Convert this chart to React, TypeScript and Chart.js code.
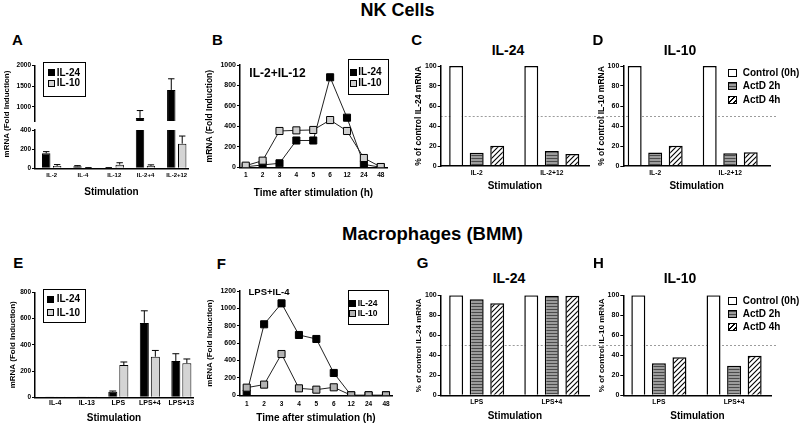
import React, { useEffect, useRef } from "react";
import { Chart, registerables } from "chart.js";

Chart.register(...registerables);

const FONT = "'Liberation Sans', Arial, Helvetica, sans-serif";
Chart.defaults.font.family = FONT;
Chart.defaults.color = "#000";

// ---------------- data ----------------
const SERIES = ["IL-24", "IL-10"];
const TREATMENTS = ["Control (0h)", "ActD 2h", "ActD 4h"];

// A — NK cells, fold induction (broken axis)
const A_CATEGORIES = ["IL-2", "IL-4", "IL-12", "IL-2+4", "IL-2+12"];
const A_IL24 = [157, 22, 5, 728, 1409];
const A_IL24_ERR = [17, 6, 2, 179, 272];
const A_IL10 = [25, 5, 38, 25, 257];
const A_IL10_ERR = [14, 2, 20, 11, 80];
const A_LOWER_TICKS = [0, 200, 400];
const A_UPPER_TICKS = [1000, 1500, 2000];

// B — NK time course IL-2+IL-12
const TIME_LABELS = ["1", "2", "3", "4", "5", "6", "12", "24", "48"];
const B_IL24 = [5, 23, 39, 262, 262, 880, 485, 29, 0];
const B_IL10 = [16, 65, 355, 361, 365, 462, 355, 91, 3];
const B_TICKS = [0, 200, 400, 600, 800, 1000];

// C, D — NK ActD
const NK_CATEGORIES = ["IL-2", "IL-2+12"];
const C_CONTROL = [100, 100];
const C_ACTD_2H = [13.3, 15];
const C_ACTD_4H = [20.3, 12];
const D_CONTROL = [100, 100];
const D_ACTD_2H = [13.5, 12.7];
const D_ACTD_4H = [20.2, 13.7];
const PERCENT_TICKS = [0, 20, 40, 60, 80, 100];

// E — macrophages fold induction
const E_CATEGORIES = ["IL-4", "IL-13", "LPS", "LPS+4", "LPS+13"];
const E_IL24 = [2, 2, 42, 567, 277];
const E_IL24_ERR = [0, 0, 6, 92, 55];
const E_IL10 = [0.5, 0.5, 246, 309, 259];
const E_IL10_ERR = [0, 0, 23, 48, 33];
const E_TICKS = [0, 200, 400, 600, 800];

// F — macrophage time course LPS+IL-4
const F_IL24 = [18, 817, 1058, 694, 648, 257, 0, 0, 0];
const F_IL10 = [88, 123, 475, 80, 65, 92, 0, 0, 0];
const F_TICKS = [0, 200, 400, 600, 800, 1000, 1200];

// G, H — macrophage ActD
const BMM_CATEGORIES = ["LPS", "LPS+4"];
const G_CONTROL = [100, 100];
const G_ACTD_2H = [96, 99.5];
const G_ACTD_4H = [92, 99.5];
const H_CONTROL = [100, 100];
const H_ACTD_2H = [32, 29.5];
const H_ACTD_4H = [38, 39.5];

// ---------------- layout helpers ----------------
type Box = { l: number; t: number; r: number; b: number };
type Frame = { x0: number; y0: number; w: number; h: number; yW: number; padTop: number; padRight: number; xH: number };

function frame(box: Box, canvasLeft: number, canvasBottom: number, topRoom = 7, rightRoom = 9): Frame {
  const x0 = Math.floor(canvasLeft);
  const y0 = Math.floor(box.t - topRoom);
  const x1 = Math.ceil(box.r + rightRoom);
  const y1 = Math.ceil(canvasBottom);
  return { x0, y0, w: x1 - x0, h: y1 - y0, yW: box.l - x0, padTop: box.t - y0, padRight: x1 - box.r, xH: y1 - box.b };
}

const FR_A_UP = frame({ l: 35, t: 65.7, r: 188, b: 123.3 }, 2, 126);
const FR_A_LOW = frame({ l: 35, t: 130, r: 188, b: 168.3 }, 2, 200, 5);
const FR_B = frame({ l: 240, t: 65, r: 387, b: 167.3 }, 203, 200);
const FR_C = frame({ l: 440.7, t: 66, r: 589, b: 166 }, 411, 195);
const FR_D = frame({ l: 623.3, t: 66, r: 770, b: 166 }, 594, 195);
const FR_E = frame({ l: 35, t: 292.3, r: 193, b: 397.3 }, 4, 426);
const FR_F = frame({ l: 240, t: 291, r: 392, b: 395.3 }, 203, 426);
const FR_G = frame({ l: 440.7, t: 295.3, r: 589, b: 395.3 }, 411, 425);
const FR_H = frame({ l: 623.3, t: 295.3, r: 771.7, b: 395.3 }, 594, 425);

const bold = (size: number) => ({ family: FONT, size, weight: "bold" as const });
const xy = (vals: number[]) => vals.map((v, i) => ({ x: i + 1, y: v }));

function yAxis(fr: Frame, o: any) {
  const ts = o.titleSize ?? 8.5;
  const lh = ts * 1.2;
  return {
    type: "linear",
    position: "left",
    min: o.min,
    max: o.max,
    afterBuildTicks: (s: any) => {
      s.ticks = o.ticks.map((v: number) => ({ value: v }));
    },
    afterFit: (s: any) => {
      s.width = fr.yW;
    },
    ticks: { font: bold(o.tickSize), color: "#000", padding: 1, callback: (v: number) => String(v) },
    grid: { display: true, drawOnChartArea: false, drawTicks: true, tickLength: 3, color: "#000", lineWidth: 1 },
    border: { display: true, color: "#000", width: 1.5, z: o.borderTop ? 1 : 0 },
    title: o.title
      ? { display: true, text: o.title, color: "#000", font: bold(ts), padding: { top: o.titleX - fr.x0 - lh / 2, bottom: 0 } }
      : { display: false },
  };
}

function xAxis(fr: Frame, o: any) {
  const ts = o.titleSize ?? 10;
  const lh = ts * 1.2;
  return {
    type: "linear",
    position: "bottom",
    offset: false,
    display: o.display ?? true,
    min: o.min,
    max: o.max,
    afterBuildTicks: (s: any) => {
      s.ticks = o.labels.map((_: string, i: number) => ({ value: i + 1 }));
    },
    afterFit: (s: any) => {
      s.height = fr.xH;
    },
    ticks: {
      font: bold(o.tickSize),
      color: "#000",
      padding: o.tickPad,
      autoSkip: false,
      maxRotation: 0,
      minRotation: 0,
      callback: (v: number) => o.labels[Math.round(v) - 1] ?? "",
    },
    grid: { display: false, drawTicks: false },
    border: { display: true, color: "#000", width: 1.5, z: o.borderTop ? 1 : 0 },
    title: o.title
      ? { display: true, text: o.title, color: "#000", font: bold(ts), padding: { top: 0, bottom: fr.y0 + fr.h - o.titleY - lh / 2 } }
      : { display: false },
  };
}

function baseOptions(fr: Frame, scales: any, plugins: any = {}) {
  return {
    responsive: false,
    animation: false,
    devicePixelRatio: 1,
    events: [],
    layout: { padding: { left: 0, top: fr.padTop, right: fr.padRight, bottom: 0 } },
    plugins: { legend: { display: false }, tooltip: { enabled: false }, title: { display: false }, ...plugins },
    scales,
  };
}

const errorBarPlugin = {
  id: "errorBars",
  afterDatasetsDraw(chart: any) {
    const { ctx, chartArea } = chart;
    const yScale = chart.scales.y;
    ctx.save();
    ctx.beginPath();
    ctx.rect(chartArea.left - 3, chartArea.top - 0.5, chartArea.right - chartArea.left + 6, chartArea.bottom - chartArea.top + 0.5);
    ctx.clip();
    ctx.strokeStyle = "#000";
    ctx.lineWidth = 1;
    chart.data.datasets.forEach((ds: any, di: number) => {
      if (!ds.errors) return;
      const meta = chart.getDatasetMeta(di);
      meta.data.forEach((el: any, i: number) => {
        const e = ds.errors[i];
        if (!e) return;
        const v = ds.data[i].y;
        const yTop = yScale.getPixelForValue(v + e);
        const half = el.width * 0.38;
        ctx.beginPath();
        ctx.moveTo(el.x, el.y);
        ctx.lineTo(el.x, yTop);
        ctx.moveTo(el.x - half, yTop);
        ctx.lineTo(el.x + half, yTop);
        ctx.stroke();
      });
    });
    ctx.restore();
  },
};

const refLinePlugin = {
  id: "refLine",
  beforeDatasetsDraw(chart: any, _a: any, opts: any) {
    if (opts == null || opts.value == null) return;
    const { ctx, chartArea, scales } = chart;
    const y = Math.round(scales.y.getPixelForValue(opts.value)) + 0.5;
    ctx.save();
    ctx.strokeStyle = "#9c9c9c";
    ctx.lineWidth = 1;
    ctx.setLineDash([2, 2]);
    ctx.beginPath();
    ctx.moveTo(opts.fromEdge ? 0 : chartArea.left, y);
    ctx.lineTo(chartArea.right + (opts.extend || 0), y);
    ctx.stroke();
    ctx.restore();
  },
};

function makePatterns() {
  const s = document.createElement("canvas");
  s.width = 4;
  s.height = 3;
  const sg = s.getContext("2d")!;
  sg.fillStyle = "#9c9c9c";
  sg.fillRect(0, 0, 4, 3);
  sg.fillStyle = "#4a4a4a";
  sg.fillRect(0, 0, 4, 1);
  const h = document.createElement("canvas");
  const n = 5;
  h.width = n;
  h.height = n;
  const hg = h.getContext("2d")!;
  hg.fillStyle = "#fff";
  hg.fillRect(0, 0, n, n);
  hg.strokeStyle = "#000";
  hg.lineWidth = 1.1;
  hg.beginPath();
  hg.moveTo(-1, n + 1);
  hg.lineTo(n + 1, -1);
  hg.moveTo(-1, 1);
  hg.lineTo(1, -1);
  hg.moveTo(n - 1, n + 1);
  hg.lineTo(n + 1, n - 1);
  hg.stroke();
  return { stripe: sg.createPattern(s, "repeat"), hatch: hg.createPattern(h, "repeat") };
}

// ---------------- chart factories ----------------
function foldBars(fr: Frame, o: any) {
  const common = { borderColor: "#000", borderWidth: 1, categoryPercentage: 0.7, barPercentage: o.barPct, clip: 0 };
  return {
    type: "bar",
    data: {
      datasets: [
        { label: SERIES[0], data: xy(o.il24), errors: o.il24Err, backgroundColor: "#000", ...common },
        { label: SERIES[1], data: xy(o.il10), errors: o.il10Err, backgroundColor: "#d4d4d4", ...common },
      ],
    },
    options: baseOptions(fr, {
      x: xAxis(fr, {
        min: o.xMin, max: o.xMax, labels: o.cats, tickSize: o.xTickSize, tickPad: o.xTickPad,
        title: o.xTitle, titleY: o.xTitleY, display: o.showX ?? true, borderTop: true,
      }),
      y: yAxis(fr, {
        min: o.yMin, max: o.yMax, ticks: o.yTicks, tickSize: o.yTickSize,
        title: o.yTitle, titleSize: o.yTitleSize, titleX: o.yTitleX, borderTop: true,
      }),
    }),
    plugins: [errorBarPlugin],
  };
}

function timeLines(fr: Frame, o: any) {
  const common = { borderColor: "#222", borderWidth: 1, pointStyle: "rect", pointRadius: 5, pointBorderColor: "#000", pointBorderWidth: 1, tension: 0 };
  return {
    type: "line",
    data: {
      datasets: [
        { label: SERIES[0], data: xy(o.il24), pointBackgroundColor: "#000", order: 1, ...common },
        { label: SERIES[1], data: xy(o.il10), pointBackgroundColor: o.gray, order: 0, ...common },
      ],
    },
    options: baseOptions(fr, {
      x: xAxis(fr, {
        min: o.xMin, max: o.xMax, labels: TIME_LABELS, tickSize: 6.5, tickPad: o.xTickPad,
        title: "Time after stimulation (h)", titleY: o.xTitleY,
      }),
      y: yAxis(fr, {
        min: 0, max: o.yMax, ticks: o.yTicks, tickSize: 7,
        title: "mRNA (Fold Induction)", titleSize: o.yTitleSize, titleX: 210,
      }),
    }),
  };
}

function pctBars(fr: Frame, pats: any, o: any) {
  const common = { borderColor: "#000", borderWidth: 1.5, categoryPercentage: 0.82, barPercentage: 0.68 };
  return {
    type: "bar",
    data: {
      datasets: [
        { label: TREATMENTS[0], data: xy(o.control), backgroundColor: "#fff", ...common },
        { label: TREATMENTS[1], data: xy(o.a2), backgroundColor: pats.stripe, ...common },
        { label: TREATMENTS[2], data: xy(o.a4), backgroundColor: pats.hatch, ...common },
      ],
    },
    options: baseOptions(
      fr,
      {
        x: xAxis(fr, {
          min: o.xMin, max: o.xMax, labels: o.cats, tickSize: 6.7, tickPad: o.xTickPad,
          title: "Stimulation", titleY: o.xTitleY, borderTop: true,
        }),
        y: yAxis(fr, {
          min: 0, max: 100, ticks: PERCENT_TICKS, tickSize: 7,
          title: o.yTitle, titleSize: o.yTitleSize, titleX: o.yTitleX, borderTop: true,
        }),
      },
      { refLine: { value: 50, fromEdge: o.fromEdge, extend: o.extend } }
    ),
    plugins: [refLinePlugin],
  };
}

// ---------------- components ----------------
function ChartBox({ fr, make }: { fr: Frame; make: (p: any) => any }) {
  const ref = useRef<HTMLCanvasElement>(null);
  useEffect(() => {
    const pats = makePatterns();
    const chart = new Chart(ref.current as HTMLCanvasElement, make(pats) as any);
    return () => chart.destroy();
  }, []);
  return (
    <canvas
      ref={ref}
      width={fr.w}
      height={fr.h}
      style={{ position: "absolute", left: fr.x0, top: fr.y0, width: fr.w, height: fr.h }}
    />
  );
}

function Txt({ x, y, size, children, rot }: { x: number; y: number; size: number; children: any; rot?: number }) {
  return (
    <div
      style={{
        position: "absolute",
        left: x,
        top: y,
        transform: `translate(-50%, -50%)${rot ? ` rotate(${rot}deg)` : ""}`,
        fontFamily: FONT,
        fontWeight: "bold",
        fontSize: size,
        lineHeight: 1,
        whiteSpace: "nowrap",
        color: "#000",
      }}
    >
      {children}
    </div>
  );
}

const SW_BLACK = { background: "#000" };
const SW_GRAY_A = { background: "#d4d4d4", border: "1px solid #000" };
const SW_GRAY_B = { background: "#cfcfcf", border: "1px solid #000" };
const SW_GRAY_F = { background: "#b3b3b3", border: "1px solid #000" };
const SW_WHITE = { background: "#fff", border: "1.5px solid #000" };
const SW_STRIPE = {
  background: "repeating-linear-gradient(180deg, #4a4a4a 0px, #4a4a4a 1px, #9c9c9c 1px, #9c9c9c 3px)",
  border: "1.5px solid #000",
};
const SW_HATCH = {
  background: "repeating-linear-gradient(135deg, #000 0px, #000 1px, #fff 1px, #fff 3.5px)",
  border: "1.5px solid #000",
};

function Row({ sx, y, sw, sh, swatch, tx, size, label }: any) {
  return (
    <>
      <div style={{ position: "absolute", left: sx, top: y - sh / 2, width: sw, height: sh, boxSizing: "border-box", ...swatch }} />
      <div
        style={{
          position: "absolute",
          left: tx,
          top: y,
          transform: "translateY(-50%)",
          fontFamily: FONT,
          fontWeight: "bold",
          fontSize: size,
          lineHeight: 1,
          whiteSpace: "nowrap",
        }}
      >
        {label}
      </div>
    </>
  );
}

function LegendBox({ l, t, r, b }: Box) {
  return (
    <div
      style={{ position: "absolute", left: l, top: t, width: r - l, height: b - t, boxSizing: "border-box", border: "1.5px solid #000", background: "#fff" }}
    />
  );
}

export default function App() {
  return (
    <div style={{ position: "fixed", left: 0, top: 0, width: 800, height: 427, background: "#fff", overflow: "hidden" }}>
      {/* A */}
      <ChartBox
        fr={FR_A_UP}
        make={() =>
          foldBars(FR_A_UP, {
            il24: A_IL24, il24Err: A_IL24_ERR, il10: A_IL10, il10Err: A_IL10_ERR, cats: A_CATEGORIES,
            xMin: 0.466, xMax: 5.36, barPct: 0.77, xTickSize: 6, xTickPad: 3.8, showX: false,
            yMin: 650, yMax: 2000, yTicks: A_UPPER_TICKS, yTickSize: 6.5,
          })
        }
      />
      <ChartBox
        fr={FR_A_LOW}
        make={() =>
          foldBars(FR_A_LOW, {
            il24: A_IL24, il24Err: A_IL24_ERR, il10: A_IL10, il10Err: A_IL10_ERR, cats: A_CATEGORIES,
            xMin: 0.466, xMax: 5.36, barPct: 0.77, xTickSize: 6, xTickPad: 3.8,
            xTitle: "Stimulation", xTitleY: 192.7,
            yMin: 0, yMax: 400, yTicks: A_LOWER_TICKS, yTickSize: 6.5,
          })
        }
      />
      {/* B */}
      <ChartBox
        fr={FR_B}
        make={() =>
          timeLines(FR_B, {
            il24: B_IL24, il10: B_IL10, gray: "#cfcfcf", xMin: 0.66, xMax: 9.37, xTickPad: 4.5, xTitleY: 193,
            yMax: 1000, yTicks: B_TICKS, yTitleSize: 8.5,
          })
        }
      />
      {/* C */}
      <ChartBox
        fr={FR_C}
        make={(p) =>
          pctBars(FR_C, p, {
            control: C_CONTROL, a2: C_ACTD_2H, a4: C_ACTD_4H, cats: NK_CATEGORIES, xMin: 0.521, xMax: 2.495,
            xTickPad: 2.7, xTitleY: 186.7, yTitle: "% of control IL-24 mRNA", yTitleSize: 8.5, yTitleX: 418.3, extend: 4,
          })
        }
      />
      {/* D */}
      <ChartBox
        fr={FR_D}
        make={(p) =>
          pctBars(FR_D, p, {
            control: D_CONTROL, a2: D_ACTD_2H, a4: D_ACTD_4H, cats: NK_CATEGORIES, xMin: 0.575, xMax: 2.53,
            xTickPad: 2.7, xTitleY: 186.7, yTitle: "% of control IL-10 mRNA", yTitleSize: 8.5, yTitleX: 602,
            fromEdge: true, extend: 8,
          })
        }
      />
      {/* E */}
      <ChartBox
        fr={FR_E}
        make={() =>
          foldBars(FR_E, {
            il24: E_IL24, il24Err: E_IL24_ERR, il10: E_IL10, il10Err: E_IL10_ERR, cats: E_CATEGORIES,
            xMin: 0.356, xMax: 5.37, barPct: 0.82, xTickSize: 7, xTickPad: 1.8,
            xTitle: "Stimulation", xTitleY: 418.3,
            yMin: 0, yMax: 800, yTicks: E_TICKS, yTickSize: 6.5,
            yTitle: "mRNA (Fold Induction)", yTitleSize: 8, yTitleX: 12.5,
          })
        }
      />
      {/* F */}
      <ChartBox
        fr={FR_F}
        make={() =>
          timeLines(FR_F, {
            il24: F_IL24, il10: F_IL10, gray: "#b3b3b3", xMin: 0.615, xMax: 9.345, xTickPad: 5.1, xTitleY: 418.3,
            yMax: 1200, yTicks: F_TICKS, yTitleSize: 8,
          })
        }
      />
      {/* G */}
      <ChartBox
        fr={FR_G}
        make={(p) =>
          pctBars(FR_G, p, {
            control: G_CONTROL, a2: G_ACTD_2H, a4: G_ACTD_4H, cats: BMM_CATEGORIES, xMin: 0.521, xMax: 2.495,
            xTickPad: 2.4, xTitleY: 416.7, yTitle: "% of control IL-24 mRNA", yTitleSize: 8, yTitleX: 418.3, extend: 6,
          })
        }
      />
      {/* H */}
      <ChartBox
        fr={FR_H}
        make={(p) =>
          pctBars(FR_H, p, {
            control: H_CONTROL, a2: H_ACTD_2H, a4: H_ACTD_4H, cats: BMM_CATEGORIES, xMin: 0.527, xMax: 2.5,
            xTickPad: 2.4, xTitleY: 416.7, yTitle: "% of control IL-10 mRNA", yTitleSize: 8, yTitleX: 602,
            fromEdge: true, extend: 5,
          })
        }
      />

      {/* headings */}
      <Txt x={397.5} y={10} size={18}>NK Cells</Txt>
      <Txt x={432.5} y={234} size={18.5}>Macrophages (BMM)</Txt>

      {/* panel letters */}
      <Txt x={17.5} y={39} size={15}>A</Txt>
      <Txt x={217.5} y={39} size={15}>B</Txt>
      <Txt x={416.7} y={39} size={15}>C</Txt>
      <Txt x={598} y={39} size={15}>D</Txt>
      <Txt x={18.3} y={261.7} size={15}>E</Txt>
      <Txt x={221.3} y={263} size={15}>F</Txt>
      <Txt x={422.5} y={261.7} size={15}>G</Txt>
      <Txt x={598.3} y={261.7} size={15}>H</Txt>

      {/* panel titles / annotations */}
      <Txt x={508} y={50} size={14}>IL-24</Txt>
      <Txt x={680} y={50} size={14}>IL-10</Txt>
      <Txt x={509} y={278.3} size={14}>IL-24</Txt>
      <Txt x={680} y={278.3} size={14}>IL-10</Txt>
      <Txt x={277.5} y={73.3} size={12}>IL-2+IL-12</Txt>
      <Txt x={269} y={292.3} size={9.5}>LPS+IL-4</Txt>
      <Txt x={7} y={114} size={8} rot={-90}>mRNA (Fold Induction)</Txt>

      {/* legend A */}
      <LegendBox l={43.3} t={62.3} r={86} b={96.7} />
      <Row sx={47.7} y={72.7} sw={7} sh={7} swatch={SW_BLACK} tx={56.7} size={10} label={SERIES[0]} />
      <Row sx={47.7} y={83.3} sw={7} sh={7} swatch={SW_GRAY_A} tx={56.7} size={10} label={SERIES[1]} />
      {/* legend B */}
      <LegendBox l={347.7} t={59.3} r={389} b={95} />
      <Row sx={350} y={72.3} sw={7} sh={7} swatch={SW_BLACK} tx={358.3} size={10} label={SERIES[0]} />
      <Row sx={350} y={83.3} sw={7} sh={7} swatch={SW_GRAY_B} tx={358.3} size={10} label={SERIES[1]} />
      {/* legend D */}
      <Row sx={727.7} y={72.7} sw={9} sh={8} swatch={SW_WHITE} tx={742.7} size={10} label={TREATMENTS[0]} />
      <Row sx={727.7} y={86} sw={9} sh={8} swatch={SW_STRIPE} tx={742.7} size={10} label={TREATMENTS[1]} />
      <Row sx={727.7} y={100} sw={9} sh={8} swatch={SW_HATCH} tx={742.7} size={10} label={TREATMENTS[2]} />
      {/* legend E */}
      <LegendBox l={42.7} t={289} r={86} b={323.3} />
      <Row sx={47.3} y={299} sw={7} sh={7} swatch={SW_BLACK} tx={56.7} size={10} label={SERIES[0]} />
      <Row sx={47.3} y={312.7} sw={7} sh={7} swatch={SW_GRAY_A} tx={56.7} size={10} label={SERIES[1]} />
      {/* legend F */}
      <LegendBox l={347.7} t={290} r={389} b={325} />
      <Row sx={349.3} y={303.3} sw={7} sh={7} swatch={SW_BLACK} tx={357.7} size={8.5} label={SERIES[0]} />
      <Row sx={349.3} y={313} sw={7} sh={7} swatch={SW_GRAY_F} tx={357.7} size={8.5} label={SERIES[1]} />
      {/* legend H */}
      <Row sx={728.3} y={300.7} sw={9} sh={8} swatch={SW_WHITE} tx={742.7} size={10} label={TREATMENTS[0]} />
      <Row sx={728.3} y={314} sw={9} sh={8} swatch={SW_STRIPE} tx={742.7} size={10} label={TREATMENTS[1]} />
      <Row sx={728.3} y={326.7} sw={9} sh={8} swatch={SW_HATCH} tx={742.7} size={10} label={TREATMENTS[2]} />
    </div>
  );
}
